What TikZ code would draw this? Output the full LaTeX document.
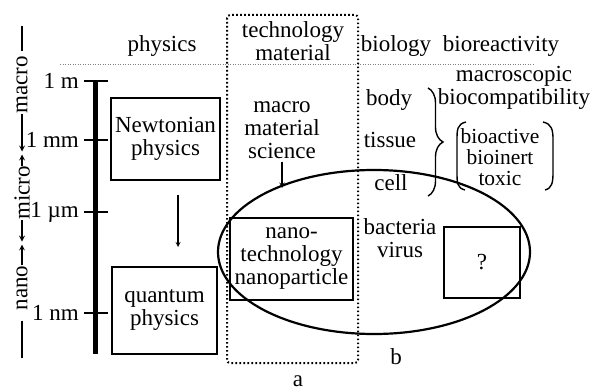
\documentclass[tikz,border=0pt]{standalone}
\usepackage{fontspec}
\setmainfont{Liberation Serif}
\usetikzlibrary{decorations.pathreplacing}

\begin{document}
\begin{tikzpicture}[
    x=1pt, y=-1pt,
    every node/.style={font=\fontsize{23}{23}\selectfont, inner sep=0pt, align=center},
    physbox/.style={draw, line width=1.3pt},
    scaletick/.style={line width=2.2pt},
    sidearrow/.style={->, line width=1.6pt},
    dotbox/.style={line width=2pt, dash pattern=on 1.6pt off 2.4pt, rounded corners=3pt},
    headline/.style={line width=1pt, gray, dash pattern=on 1pt off 1.5pt},
    >=stealth,
]
\useasboundingbox (0,0) rectangle (593,390);

% === column headers ===
\node (hphys) at (162,46) {physics};
\node (htech) at (293,41) {technology\\material};
\node (hbio) at (396,46) {biology};
\node (hreact) at (501,46) {bioreactivity};
\draw[headline] (60,65) -- (533,65);

% technology column (a)
\draw[dotbox] (227,15) rectangle (358,363);
\node (la) at (298,381) {a};

% === scale bar ===
\def\barX{95}
\draw[line width=5pt] (\barX,80) -- (\barX,354);
\foreach \yy/\lab/\nm in {81/1 m/m, 140/1 mm/mm, 212/1 µm/um, 313/1 nm/nm} {
    \draw[scaletick] (84,\yy) -- (108,\yy);
    \node[anchor=east] (s\nm) at (79,\yy) {\lab};
}

% === size ranges (rotated) ===
\coordinate (bmm) at (22,153);
\coordinate (bum) at (22,243);
\node[rotate=90] (lmacro) at (22,85) {macro};
\node[rotate=90] (lmicro) at (22,193) {micro};
\node[rotate=90] (lnano) at (22,288) {nano};
\draw[line width=1.6pt] ([yshift=5pt]lmacro.east) -- ++(0,25pt);
\draw[sidearrow] (lmacro.west) -- ([yshift=1.5pt]bmm);
\draw[sidearrow] (lmicro.east) -- ([yshift=-1.5pt]bmm);
\draw[sidearrow] (lmicro.west) -- ([yshift=1.5pt]bum);
\draw[sidearrow] (lnano.east) -- ([yshift=-1.5pt]bum);
\draw[line width=1.6pt] ([yshift=-10pt]lnano.west) -- (22,358);

% === physics column ===
\node[physbox, minimum width=109pt, minimum height=82pt] (newton) at (165.5,139) {Newtonian\\physics};
\node[physbox, minimum width=105pt, minimum height=87pt] (quantum) at (164.5,310.5) {quantum\\physics};
\coordinate (ptop) at (178,195);
\coordinate (pbot) at (178,247);
\draw[->, line width=1.2pt] (ptop) -- (pbot);

% === technology column ===
\node (macromat) at (282,130) {macro\\material\\science};
\coordinate (mtip) at (282,188);
\draw[->, line width=1.4pt] ([yshift=-3pt]macromat.south) -- (mtip);
\node[physbox, minimum width=123pt, minimum height=82pt] (nanotech) at (291.5,259) {nano-\\technology\\nanoparticle};

% === biology column ===
\node (body) at (389,100) {body};
\node (tissue) at (390,140) {tissue};
\node (cell) at (391,183) {cell};
\node (bact) at (400,238) {bacteria\\virus};
\draw[line width=1.4pt, decorate, decoration={brace, amplitude=15pt}] (428,88) -- (428,196);

% === bioreactivity column ===
\node (macroscop) at (514,88) {macroscopic\\biocompatibility};
\node[font=\fontsize{21.5}{21}\selectfont] (reacts) at (500,157) {bioactive\\bioinert\\toxic};
\draw[line width=1.4pt] (466,122) .. controls (457,124) and (457,130) .. (457,140) -- (457,172) .. controls (457,183) and (457,188) .. (465,190);
\draw[line width=1.4pt] (543,122) .. controls (552,124) and (553,130) .. (553,140) -- (553,172) .. controls (553,183) and (552,188) .. (545,190);
\node[physbox, minimum width=76pt, minimum height=71pt] (qbox) at (482,262.5) {?};

% === nano region (b) ===
\draw[line width=2.2pt] (374,252) ellipse [x radius=156, y radius=82];
\node (lb) at (396,357) {b};

\end{tikzpicture}
\end{document}
